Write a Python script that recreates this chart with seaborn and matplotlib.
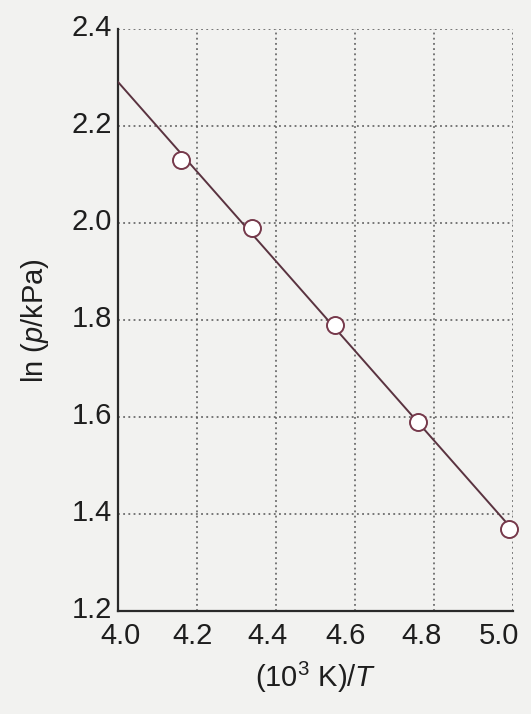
import numpy as np
import pandas as pd
import matplotlib
matplotlib.use("Agg")
import matplotlib.pyplot as plt
from matplotlib.transforms import ScaledTranslation
import seaborn as sns

# Measured points: reciprocal temperature and log vapour pressure
inv_T = [4.16, 4.34, 4.55, 4.76, 4.99]
ln_p = [2.13, 1.99, 1.79, 1.59, 1.37]

x_ticks = [4.0, 4.2, 4.4, 4.6, 4.8, 5.0]
y_ticks = [1.2, 1.4, 1.6, 1.8, 2.0, 2.2, 2.4]
x_tick_labels = ["4.0", "4.2", "4.4", "4.6", "4.8", "5.0"]
y_tick_labels = ["1.2", "1.4", "1.6", "1.8", "2.0", "2.2", "2.4"]

sns.set_theme(style="white")
plt.rcParams["font.family"] = ["Liberation Sans", "DejaVu Sans"]
plt.rcParams["mathtext.fontset"] = "custom"
plt.rcParams["mathtext.rm"] = "Liberation Sans"
plt.rcParams["mathtext.it"] = "Liberation Sans:italic"

bg = "#f2f2f0"
ink = "#1e1e1e"
fig = plt.figure(figsize=(5.31, 7.14), dpi=100, facecolor=bg)
ax = fig.add_axes([0.222, 0.144, 0.744, 0.815])
ax.set_facecolor(bg)

df = pd.DataFrame({"x": inv_T, "y": ln_p})

# Least-squares straight line through the points, drawn from the left axis
slope, intercept = np.polyfit(df["x"], df["y"], 1)
fit = pd.DataFrame({"x": [x_ticks[0], inv_T[-1]]})
fit["y"] = intercept + slope * fit["x"]

sns.lineplot(data=fit, x="x", y="y", ax=ax, color="#5a3340", lw=1.4, zorder=3)
sns.scatterplot(data=df, x="x", y="y", ax=ax, s=150, marker="o",
                facecolor="white", edgecolor="#76394b", linewidth=1.4, zorder=4,
                clip_on=False)

ax.set_xlim(x_ticks[0], x_ticks[-1])
ax.set_ylim(y_ticks[0], y_ticks[-1])
ax.set_xticks(x_ticks, x_tick_labels)
ax.set_yticks(y_ticks, y_tick_labels)
ax.tick_params(axis="x", length=0, labelsize=21, colors=ink, pad=8)
ax.tick_params(axis="y", length=0, labelsize=21, colors=ink, pad=4)

# tick labels sit a little off their gridlines, as in the printed figure
x_shift = [3, -4, -8, -9, -12, -14]
for lab, dx in zip(ax.get_xticklabels(), x_shift):
    lab.set_transform(lab.get_transform() + ScaledTranslation(dx / 100, 0, fig.dpi_scale_trans))
for lab in ax.get_yticklabels():
    lab.set_transform(lab.get_transform() + ScaledTranslation(0, 4 / 100, fig.dpi_scale_trans))

ax.grid(True, color="#555555", linestyle=(0, (1.2, 2.2)), linewidth=1.1)
ax.set_axisbelow(True)

for side in ["top", "right"]:
    ax.spines[side].set_visible(False)
for side in ["left", "bottom"]:
    ax.spines[side].set_color("#2a2a2a")
    ax.spines[side].set_linewidth(1.6)

ax.set_xlabel("(10$^3$ K)/$\\mathit{T}$", fontsize=21, color=ink, labelpad=7)
ax.set_ylabel("ln ($\\mathit{p}$/kPa)", fontsize=21, color=ink, labelpad=15)

fig.savefig("out.png", dpi=100, facecolor=bg)
